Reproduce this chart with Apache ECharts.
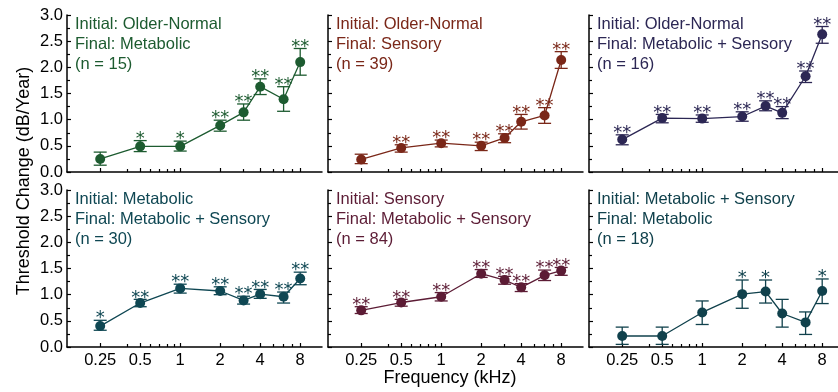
<!DOCTYPE html>
<html>
<head>
<meta charset="utf-8">
<script src="https://cdn.jsdelivr.net/npm/echarts@6/dist/echarts.min.js"></script>
<style>
html, body { margin: 0; padding: 0; background: #fff; }
#main { width: 838px; height: 392px; }
</style>
</head>
<body>
<div id="main"></div>
<script>
// frequencies (kHz) and tick positions
var freqs = [0.25, 0.5, 1, 2, 3, 4, 6, 8];
var freqLabels = [0.25, 0.5, 1, 2, 4, 8];
var freqMinor = [0.4, 0.6, 0.7, 0.8, 0.9, 3, 5, 6, 7];

// Initial: Older-Normal, Final: Metabolic
var p1Mean = [0.25, 0.49, 0.49, 0.89, 1.14, 1.63, 1.39, 2.10];
var p1Lo   = [0.13, 0.39, 0.40, 0.78, 0.99, 1.48, 1.16, 1.85];
var p1Hi   = [0.38, 0.60, 0.59, 0.99, 1.30, 1.78, 1.63, 2.36];
var p1Stars = ['', '*', '*', '**', '**', '**', '**', '**'];

// Initial: Older-Normal, Final: Sensory
var p2Mean = [0.24, 0.46, 0.55, 0.50, 0.65, 0.96, 1.08, 2.14];
var p2Lo   = [0.16, 0.38, 0.48, 0.41, 0.56, 0.82, 0.93, 1.98];
var p2Hi   = [0.34, 0.52, 0.61, 0.57, 0.73, 1.10, 1.23, 2.30];
var p2Stars = ['', '**', '**', '**', '**', '**', '**', '**'];

// Initial: Older-Normal, Final: Metabolic + Sensory
var p3Mean = [0.62, 1.03, 1.02, 1.06, 1.26, 1.13, 1.83, 2.63];
var p3Lo   = [0.52, 0.94, 0.95, 0.97, 1.17, 1.02, 1.71, 2.46];
var p3Hi   = [0.71, 1.10, 1.09, 1.15, 1.36, 1.25, 1.93, 2.78];
var p3Stars = ['**', '**', '**', '**', '**', '**', '**', '**'];

// Initial: Metabolic, Final: Metabolic + Sensory
var p4Mean = [0.40, 0.84, 1.12, 1.07, 0.89, 1.01, 0.96, 1.31];
var p4Lo   = [0.32, 0.77, 1.03, 1.00, 0.82, 0.93, 0.84, 1.19];
var p4Hi   = [0.51, 0.91, 1.20, 1.15, 0.97, 1.10, 1.05, 1.43];
var p4Stars = ['*', '**', '**', '**', '**', '**', '**', '**'];

// Initial: Sensory, Final: Metabolic + Sensory
var p5Mean = [0.70, 0.85, 0.96, 1.40, 1.28, 1.14, 1.37, 1.46];
var p5Lo   = [0.64, 0.78, 0.88, 1.33, 1.20, 1.06, 1.27, 1.37];
var p5Hi   = [0.77, 0.91, 1.04, 1.48, 1.35, 1.21, 1.47, 1.52];
var p5Stars = ['**', '**', '**', '**', '**', '**', '**', '**'];

// Initial: Metabolic + Sensory, Final: Metabolic
var p6Mean = [0.21, 0.21, 0.66, 1.01, 1.06, 0.64, 0.47, 1.07];
var p6Lo   = [0.05, 0.05, 0.43, 0.74, 0.84, 0.38, 0.24, 0.83];
var p6Hi   = [0.38, 0.38, 0.88, 1.28, 1.28, 0.91, 0.67, 1.30];
var p6Stars = ['', '', '', '*', '*', '', '', '*'];

var panels = [
    {mean: p1Mean, lo: p1Lo, hi: p1Hi, stars: p1Stars, color: '#1d5b30',
     text: 'Initial: Older-Normal\nFinal: Metabolic\n(n = 15)'},
    {mean: p2Mean, lo: p2Lo, hi: p2Hi, stars: p2Stars, color: '#7a2718',
     text: 'Initial: Older-Normal\nFinal: Sensory\n(n = 39)'},
    {mean: p3Mean, lo: p3Lo, hi: p3Hi, stars: p3Stars, color: '#2c2754',
     text: 'Initial: Older-Normal\nFinal: Metabolic + Sensory\n(n = 16)'},
    {mean: p4Mean, lo: p4Lo, hi: p4Hi, stars: p4Stars, color: '#0f4753',
     text: 'Initial: Metabolic\nFinal: Metabolic + Sensory\n(n = 30)'},
    {mean: p5Mean, lo: p5Lo, hi: p5Hi, stars: p5Stars, color: '#5c1c35',
     text: 'Initial: Sensory\nFinal: Metabolic + Sensory\n(n = 84)'},
    {mean: p6Mean, lo: p6Lo, hi: p6Hi, stars: p6Stars, color: '#10414c',
     text: 'Initial: Metabolic + Sensory\nFinal: Metabolic\n(n = 18)'}
];

var FONT = 'Liberation Sans, Arial, sans-serif';
var lefts = [67, 328, 589];
var widths = [255, 255, 249];
var tops = [15, 190];
var HEIGHT = 157;
var XMIN = -2.83;      // log2 of about 0.14 kHz
var PX_PER_OCT = 40;

function lg(f) { return Math.log2(f); }

var grids = [], xAxes = [], yAxes = [], series = [], titles = [];

panels.forEach(function (p, i) {
    var row = Math.floor(i / 3), col = i % 3;
    var xmax = XMIN + widths[col] / PX_PER_OCT;
    grids.push({left: lefts[col], top: tops[row], width: widths[col], height: HEIGHT,
                containLabel: false, outerBoundsMode: 'none'});

    xAxes.push({
        type: 'value', gridIndex: i, position: 'bottom', min: XMIN, max: xmax,
        axisLine: {show: true, onZero: false, lineStyle: {color: '#000', width: 1.5}},
        axisTick: {show: true, inside: true, length: 4, customValues: freqLabels.map(lg),
                   lineStyle: {color: '#000', width: 1.2}},
        axisLabel: {show: row === 1, customValues: freqLabels.map(lg), color: '#000',
                    fontSize: 16.5, fontFamily: FONT, margin: 5,
                    formatter: function (v) { return String(+Math.pow(2, v).toFixed(2)); }},
        splitLine: {show: false}
    });
    // second axis just for the minor log ticks
    xAxes.push({
        type: 'value', gridIndex: i, position: 'bottom', min: XMIN, max: xmax,
        axisLine: {show: false, onZero: false},
        axisTick: {show: true, inside: true, length: 3, customValues: freqMinor.map(lg),
                   lineStyle: {color: '#000', width: 1.2}},
        axisLabel: {show: false},
        splitLine: {show: false}
    });

    yAxes.push({
        type: 'value', gridIndex: i, min: 0, max: 3, interval: 0.5,
        axisLine: {show: true, onZero: false, lineStyle: {color: '#000', width: 1.5}},
        axisTick: {show: true, inside: true, length: 4, lineStyle: {color: '#000', width: 1.2}},
        minorTick: {show: true, splitNumber: 2, length: 3, lineStyle: {color: '#000', width: 1.2}},
        axisLabel: {show: col === 0, color: '#000', fontSize: 16.5, fontFamily: FONT, margin: 4,
                    formatter: function (v) { return v.toFixed(1); }},
        splitLine: {show: false},
        minorSplitLine: {show: false}
    });

    titles.push({
        text: p.text, left: lefts[col] + 8, top: tops[row] - 1, padding: 0,
        textStyle: {color: p.color, fontSize: 16.5, fontWeight: 'normal', lineHeight: 20, fontFamily: FONT}
    });

    // error bars
    series.push({
        type: 'custom', xAxisIndex: 2 * i, yAxisIndex: i, z: 2,
        encode: {x: 0, y: [1, 2]},
        data: freqs.map(function (f, j) { return [lg(f), p.lo[j], p.hi[j]]; }),
        renderItem: function (params, api) {
            var x = api.value(0);
            var a = api.coord([x, api.value(1)]);
            var b = api.coord([x, api.value(2)]);
            var w = 6.5;
            var st = {stroke: p.color, lineWidth: 1.3};
            return {type: 'group', children: [
                {type: 'line', shape: {x1: a[0], y1: a[1], x2: b[0], y2: b[1]}, style: st},
                {type: 'line', shape: {x1: a[0] - w, y1: a[1], x2: a[0] + w, y2: a[1]}, style: st},
                {type: 'line', shape: {x1: b[0] - w, y1: b[1], x2: b[0] + w, y2: b[1]}, style: st}
            ]};
        }
    });

    // means
    series.push({
        type: 'line', xAxisIndex: 2 * i, yAxisIndex: i, z: 3,
        data: freqs.map(function (f, j) { return [lg(f), p.mean[j]]; }),
        symbol: 'circle', symbolSize: 10, showSymbol: true,
        lineStyle: {color: p.color, width: 1.3},
        itemStyle: {color: p.color}
    });

    // significance stars above the error bars
    series.push({
        type: 'custom', xAxisIndex: 2 * i, yAxisIndex: i, z: 4,
        data: freqs.map(function (f, j) { return [lg(f), p.hi[j]]; }),
        renderItem: function (params, api) {
            var s = p.stars[params.dataIndex];
            if (!s) return null;
            var c = api.coord([api.value(0), api.value(1)]);
            return {type: 'text', x: c[0], y: c[1] + 7.5, style: {
                text: s, fill: p.color, font: '18px DejaVu Sans',
                textAlign: 'center', textVerticalAlign: 'bottom'
            }};
        }
    });
});

var myChart = echarts.init(document.getElementById('main'));
myChart.setOption({
    animation: false,
    title: titles,
    grid: grids,
    xAxis: xAxes,
    yAxis: yAxes,
    series: series,
    graphic: [
        {type: 'text', x: 24, y: 181, rotation: Math.PI / 2,
         style: {text: 'Threshold Change (dB/Year)', fill: '#000', font: '18px ' + FONT,
                 textAlign: 'center', textVerticalAlign: 'middle'}},
        {type: 'text', x: 450, y: 378,
         style: {text: 'Frequency (kHz)', fill: '#000', font: '18px ' + FONT,
                 textAlign: 'center', textVerticalAlign: 'middle'}}
    ]
});
</script>
</body>
</html>
